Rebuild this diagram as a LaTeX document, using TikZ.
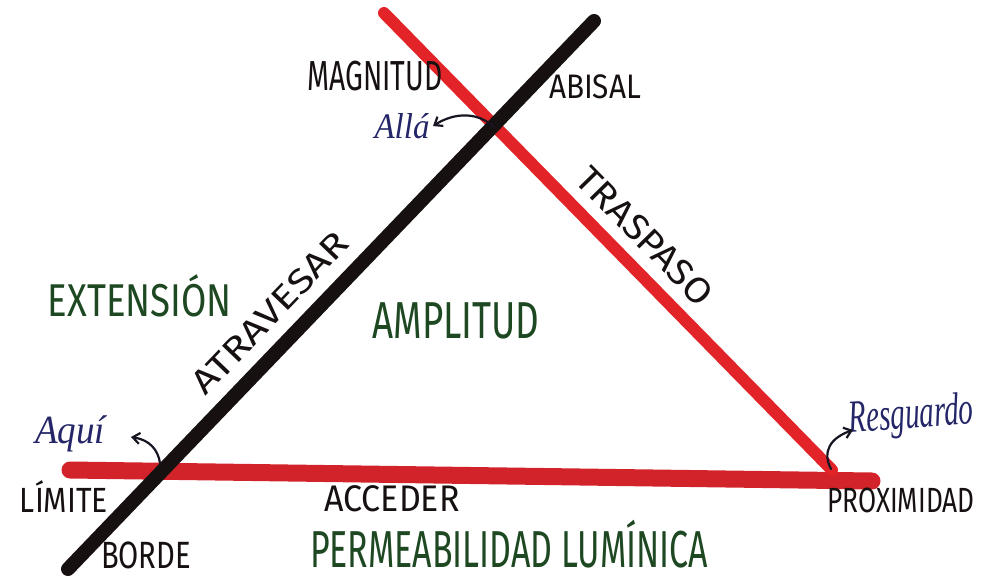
\documentclass[tikz,border=0pt]{standalone}
\usepackage{fontspec}
\usepackage{graphicx}
\setmainfont{Fira Sans}
\newfontfamily\curfont{Liberation Serif}
\usetikzlibrary{arrows.meta}
\definecolor{inkblack}{RGB}{22,16,16}
\definecolor{inkred}{RGB}{226,36,40}
\definecolor{inkredd}{RGB}{210,34,42}
\definecolor{inkgreen}{RGB}{30,72,34}
\definecolor{inknavy}{RGB}{36,38,104}
\newcommand\fitw[2]{\resizebox{#1}{\height}{#2}}
\tikzset{
  bar/.style={line cap=round, line width=#1},
  lbl/.style={inner sep=0pt, text=inkblack, anchor=base},
  grn/.style={inner sep=0pt, text=inkgreen, anchor=base},
  nvy/.style={inner sep=0pt, text=inknavy, anchor=base, font=\curfont\itshape},
  ptr/.style={draw=inkblack!80!inknavy, line width=2.2pt, line cap=round, -{Straight Barb[length=7pt,width=11pt]}}
}
\begin{document}
\begin{tikzpicture}[x=1pt,y=-1pt]
\useasboundingbox (0,0) rectangle (990,581);
% line end points
\coordinate (hL) at (70,470);
\coordinate (hR) at (872,481);
\coordinate (bB) at (68,569);
\coordinate (bT) at (594,21);
\coordinate (rT) at (384,13);
\coordinate (rB) at (832,470);
% bars
\draw[bar=17pt, inkredd] (hL) -- (hR);
\draw[bar=12pt, inkred] (rT) -- (rB);
\draw[bar=14pt, inkblack] (bB) -- (bT);
% labels
\node[lbl, font=\fontsize{42}{42}\selectfont] (magnitud) at (375,90) {\fitw{135pt}{MAGNITUD}};
\node[lbl, font=\fontsize{34}{34}\selectfont] (abisal) at (595,98) {\fitw{92pt}{ABISAL}};
\node[nvy, font=\curfont\itshape\fontsize{36}{36}\selectfont] (alla) at (402,138) {\fitw{55pt}{Allá}};
\node[lbl, font=\fontsize{36}{36}\selectfont, anchor=center, rotate=-45.6] (traspaso) at (645,236) {\fitw{178pt}{TRASPASO}};
\node[grn, font=\fontsize{46}{46}\selectfont] (extension) at (140,316) {\fitw{184pt}{EXTENSIÓN}};
\node[grn, font=\fontsize{52}{52}\selectfont] (amplitud) at (456,338) {\fitw{167pt}{AMPLITUD}};
\node[lbl, font=\fontsize{34}{34}\selectfont, anchor=center, rotate=46.2] (atravesar) at (270,313) {\fitw{210pt}{ATRAVESAR}};
\node[nvy, font=\curfont\itshape\fontsize{40}{40}\selectfont] (aqui) at (70,443) {\fitw{70pt}{Aquí}};
\node[lbl, font=\fontsize{35}{35}\selectfont] (limite) at (64,512) {\fitw{88pt}{LÍMITE}};
\node[lbl, font=\fontsize{38}{38}\selectfont] (borde) at (146,568) {\fitw{90pt}{BORDE}};
\node[lbl, font=\fontsize{37}{37}\selectfont] (acceder) at (392,511) {\fitw{135pt}{ACCEDER}};
\node[grn, font=\fontsize{52}{52}\selectfont] (perm) at (509,567) {\fitw{398pt}{PERMEABILIDAD LUMÍNICA}};
\node[nvy, font=\curfont\itshape\fontsize{46}{46}\selectfont, rotate=4] (resg) at (912,428) {\fitw{125pt}{Resguardo}};
\node[lbl, font=\fontsize{35}{35}\selectfont] (prox) at (901,512) {\fitw{147pt}{PROXIMIDAD}};
% small pointer arrows
\coordinate (xTop) at (494,127);
\coordinate (xLeft) at (160,463);
\coordinate (xRight) at (831,469);
\draw[ptr] (xTop) .. controls (478,112) and (455,112) .. (433,126);
\draw[ptr] (xLeft) .. controls (158,450) and (150,440) .. (131,437);
\draw[ptr] (xRight) .. controls (822,452) and (830,438) .. (853,430);
\end{tikzpicture}
\end{document}
